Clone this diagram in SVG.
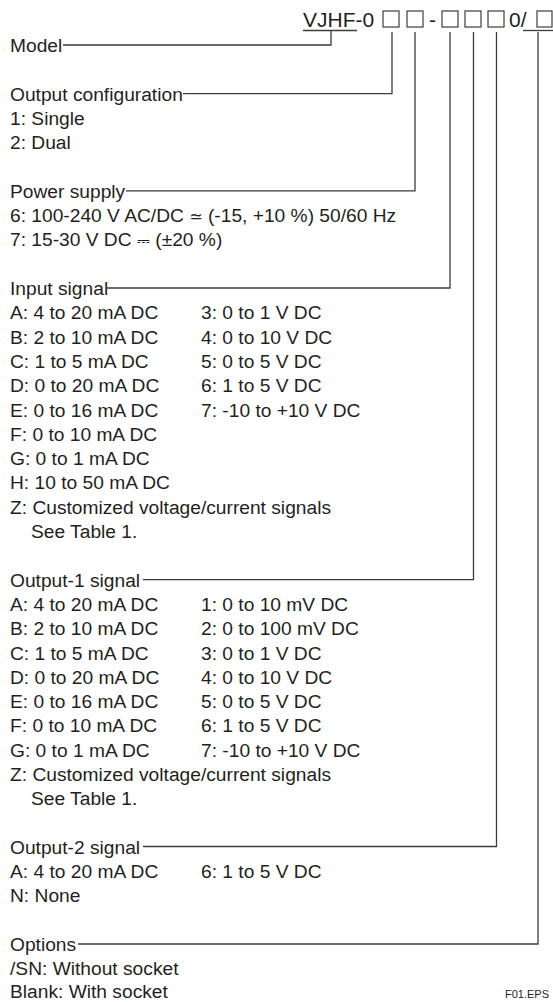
<svg xmlns="http://www.w3.org/2000/svg" width="553" height="1002" viewBox="0 0 553 1002">
<style>
text{font-family:"Liberation Sans",Arial,Helvetica,sans-serif;font-size:19.2px;fill:#231f20}
.title{font-size:21px}
.sym{font-family:"DejaVu Sans","Liberation Sans",sans-serif;font-size:16px}
.small{font-size:11px}
.ln{stroke:#3c3c3c;stroke-width:1.3;fill:none}
.box{stroke:#3c3c3c;stroke-width:1.2;fill:none}
</style>
<rect width="553" height="1002" fill="#ffffff"/>
<g id="model-code">
<text class="title" x="303" y="27">VJHF-0</text>
<line class="ln" x1="303" y1="30.5" x2="357" y2="30.5"/>
<rect class="box" x="383" y="11" width="16" height="16"/>
<rect class="box" x="407" y="11" width="16" height="16"/>
<text class="title" x="429" y="27">-</text>
<rect class="box" x="442" y="11" width="16" height="16"/>
<rect class="box" x="465" y="11" width="16" height="16"/>
<rect class="box" x="488" y="11" width="16" height="16"/>
<text class="title" x="509" y="27">0/</text>
<rect class="box" x="537" y="11" width="15" height="16"/>
<line class="ln" x1="523" y1="30.5" x2="553" y2="30.5"/>
</g>
<g id="connectors">
<polyline class="ln" points="63,45 331,45 331,30.5"/>
<polyline class="ln" points="183,93.6 392,93.6 392,32"/>
<polyline class="ln" points="126,190.8 415,190.8 415,32"/>
<polyline class="ln" points="107,288 450,288 450,32"/>
<polyline class="ln" points="143,579.6 473.5,579.6 473.5,32"/>
<polyline class="ln" points="143,846.5 496.5,846.5 496.5,32"/>
<polyline class="ln" points="78,944 538,944 538,32"/>
</g>
<g id="model"><text x="10" y="52">Model</text></g>
<g id="output-configuration">
<text x="10" y="100.6">Output configuration</text>
<text x="10" y="124.9">1: Single</text>
<text x="10" y="149.2">2: Dual</text>
</g>
<g id="power-supply">
<text x="10" y="197.8">Power supply</text>
<text x="10" y="222.1">6: 100-240 V AC/DC <tspan class="sym">≃</tspan> (-15, +10 %) 50/60 Hz</text>
<text x="10" y="246.4">7: 15-30 V DC <tspan class="sym">⎓</tspan> (±20 %)</text>
</g>
<g id="input-signal">
<text x="10" y="295">Input signal</text>
<text x="10" y="319.3">A: 4 to 20 mA DC</text>
<text x="10" y="343.6">B: 2 to 10 mA DC</text>
<text x="10" y="367.9">C: 1 to 5 mA DC</text>
<text x="10" y="392.2">D: 0 to 20 mA DC</text>
<text x="10" y="416.5">E: 0 to 16 mA DC</text>
<text x="10" y="440.8">F: 0 to 10 mA DC</text>
<text x="10" y="465.1">G: 0 to 1 mA DC</text>
<text x="10" y="489.4">H: 10 to 50 mA DC</text>
<text x="10" y="513.7">Z: Customized voltage/current signals</text>
<text x="31" y="538">See Table 1.</text>
<text x="201" y="319.3">3: 0 to 1 V DC</text>
<text x="201" y="343.6">4: 0 to 10 V DC</text>
<text x="201" y="367.9">5: 0 to 5 V DC</text>
<text x="201" y="392.2">6: 1 to 5 V DC</text>
<text x="201" y="416.5">7: -10 to +10 V DC</text>
</g>
<g id="output-1-signal">
<text x="10" y="586.6">Output-1 signal</text>
<text x="10" y="610.9">A: 4 to 20 mA DC</text>
<text x="10" y="635.2">B: 2 to 10 mA DC</text>
<text x="10" y="659.5">C: 1 to 5 mA DC</text>
<text x="10" y="683.8">D: 0 to 20 mA DC</text>
<text x="10" y="708.1">E: 0 to 16 mA DC</text>
<text x="10" y="732.4">F: 0 to 10 mA DC</text>
<text x="10" y="756.7">G: 0 to 1 mA DC</text>
<text x="10" y="781">Z: Customized voltage/current signals</text>
<text x="31" y="805.3">See Table 1.</text>
<text x="201" y="610.9">1: 0 to 10 mV DC</text>
<text x="201" y="635.2">2: 0 to 100 mV DC</text>
<text x="201" y="659.5">3: 0 to 1 V DC</text>
<text x="201" y="683.8">4: 0 to 10 V DC</text>
<text x="201" y="708.1">5: 0 to 5 V DC</text>
<text x="201" y="732.4">6: 1 to 5 V DC</text>
<text x="201" y="756.7">7: -10 to +10 V DC</text>
</g>
<g id="output-2-signal">
<text x="10" y="853.6">Output-2 signal</text>
<text x="10" y="877.9">A: 4 to 20 mA DC</text>
<text x="10" y="902.2">N: None</text>
<text x="201" y="877.9">6: 1 to 5 V DC</text>
</g>
<g id="options">
<text x="10" y="951">Options</text>
<text x="10" y="975">/SN: Without socket</text>
<text x="10" y="998">Blank: With socket</text>
</g>
<g id="figure-id"><text class="small" x="549" y="998" text-anchor="end">F01.EPS</text></g>
</svg>
